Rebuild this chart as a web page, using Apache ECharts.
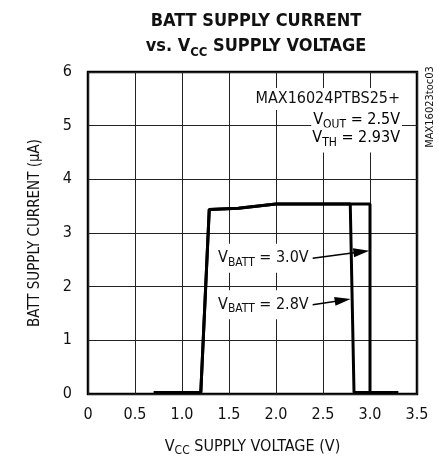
<!DOCTYPE html>
<html>
<head>
<meta charset="utf-8">
<script src="https://cdn.jsdelivr.net/npm/echarts@6/dist/echarts.min.js"></script>
<style>
html,body{margin:0;padding:0;background:#fff;}
#c{width:438px;height:462px;}
</style>
</head>
<body>
<div id="c"></div>
<script>
// ---- data ----
const xTickLabels = ['0', '0.5', '1.0', '1.5', '2.0', '2.5', '3.0', '3.5'];
const yTickLabels = ['0', '1', '2', '3', '4', '5', '6'];
const xBatt30 = [0.7, 1.2, 1.29, 1.6, 2.0, 3.0, 3.0, 3.3];
const yBatt30 = [0.03, 0.03, 3.44, 3.46, 3.54, 3.54, 0.03, 0.03];
const xBatt28 = [0.7, 1.2, 1.29, 1.6, 2.0, 2.79, 2.83, 3.3];
const yBatt28 = [0.03, 0.03, 3.44, 3.46, 3.54, 3.54, 0.03, 0.03];
// annotation arrows: [startX, startY, endX, endY]
const arrow30 = [2.39, 2.53, 2.909, 2.65];
const arrow28 = [2.39, 1.665, 2.71, 1.747];

const FONT = '"DejaVu Sans Condensed", "Liberation Sans Narrow", sans-serif';
const TXT = '#111';

function pairs(xs, ys) { return xs.map((x, i) => [x, ys[i]]); }

const subRich = {
  n: { fontFamily: FONT, fontSize: 16, color: TXT, lineHeight: 21 },
  s: { fontFamily: FONT, fontSize: 12, color: TXT, lineHeight: 12, verticalAlign: 'bottom' }
};

function arrowLine(a) {
  return {
    silent: true, symbol: ['none', 'triangle'], symbolSize: 12,
    label: { show: false },
    lineStyle: { color: '#000', width: 1.5, type: 'solid' },
    data: [[
      { coord: [a[0], a[1]], symbol: 'none' },
      { coord: [a[2], a[3]], symbol: 'triangle', symbolSize: [9, 16] }
    ]]
  };
}

function textPoint(a, txt) {
  return {
    silent: true, symbol: 'circle', symbolSize: 0,
    data: [{
      coord: [a[0], a[1]],
      label: {
        show: true, position: 'left', distance: 1,
        formatter: txt,
        backgroundColor: '#fff', padding: [4, 3, 4, 3],
        rich: subRich
      }
    }]
  };
}

const chart = echarts.init(document.getElementById('c'), null, { renderer: 'canvas' });

const option = {
  animation: false,
  backgroundColor: '#fff',
  title: {
    text: '{b|BATT SUPPLY CURRENT}\n{b|vs. V}{bs|CC}{b| SUPPLY VOLTAGE}',
    left: 251,
    top: 4,
    textAlign: 'center',
    textStyle: {
      rich: {
        b: { fontFamily: FONT, fontSize: 18, fontWeight: 'bold', color: TXT, lineHeight: 25 },
        bs: { fontFamily: FONT, fontSize: 13, fontWeight: 'bold', color: TXT, lineHeight: 13, verticalAlign: 'bottom' }
      }
    }
  },
  grid: {
    left: 88, right: 21, top: 72, bottom: 62,
    show: true, borderColor: '#000', borderWidth: 2.5, backgroundColor: 'transparent'
  },
  xAxis: {
    type: 'value', min: 0, max: 3.5, interval: 0.5,
    axisLine: { show: false }, axisTick: { show: false },
    splitLine: { show: true, lineStyle: { color: '#222', width: 1 } },
    axisLabel: {
      margin: 13, fontFamily: FONT, fontSize: 16, color: TXT,
      formatter: v => xTickLabels[Math.round(v / 0.5)]
    },
    name: '{n|V}{s|CC}{n| SUPPLY VOLTAGE (V)}',
    nameLocation: 'middle', nameGap: 42,
    nameTextStyle: { rich: subRich }
  },
  yAxis: {
    type: 'value', min: 0, max: 6, interval: 1,
    axisLine: { show: false }, axisTick: { show: false },
    splitLine: { show: true, lineStyle: { color: '#222', width: 1 } },
    axisLabel: {
      margin: 16, fontFamily: FONT, fontSize: 16, color: TXT,
      formatter: v => yTickLabels[Math.round(v)]
    },
    name: 'BATT SUPPLY CURRENT (\u00B5A)',
    nameLocation: 'middle', nameGap: 45, nameRotate: 90,
    nameTextStyle: { fontFamily: FONT, fontSize: 15, color: TXT }
  },
  series: [
    {
      name: 'VBATT = 3.0V', type: 'line', data: pairs(xBatt30, yBatt30),
      showSymbol: false, symbol: 'none', lineStyle: { color: '#000', width: 3 }, z: 5,
      markLine: arrowLine(arrow30),
      markPoint: textPoint(arrow30, '{n|V}{s|BATT}{n| = 3.0V}')
    },
    {
      name: 'VBATT = 2.8V', type: 'line', data: pairs(xBatt28, yBatt28),
      showSymbol: false, symbol: 'none', lineStyle: { color: '#000', width: 3 }, z: 5,
      markLine: arrowLine(arrow28),
      markPoint: textPoint(arrow28, '{n|V}{s|BATT}{n| = 2.8V}')
    }
  ],
  graphic: [
    {
      type: 'text', x: 402, y: 99, z: 10,
      style: {
        text: 'MAX16024PTBS25+', align: 'right', verticalAlign: 'middle',
        fontFamily: FONT, fontSize: 16, fill: TXT, backgroundColor: '#fff', padding: [4, 2, 2, 2]
      }
    },
    {
      type: 'text', x: 402, y: 120, z: 10,
      style: {
        text: '{n|V}{s|OUT}{n| = 2.5V}', align: 'right', verticalAlign: 'middle',
        backgroundColor: '#fff', padding: [0, 2, 0, 2], rich: subRich
      }
    },
    {
      type: 'text', x: 402, y: 140, z: 10,
      style: {
        text: '{n|V}{s|TH}{n| = 2.93V}', align: 'right', verticalAlign: 'middle',
        backgroundColor: '#fff', padding: [0, 2, 4, 2], rich: subRich
      }
    },
    {
      type: 'text', x: 430, y: 107, rotation: Math.PI / 2, z: 10,
      style: {
        text: 'MAX16023toc03', align: 'center', verticalAlign: 'middle',
        fontFamily: FONT, fontSize: 11, fill: TXT
      }
    }
  ]
};
chart.setOption(option);
</script>
</body>
</html>
